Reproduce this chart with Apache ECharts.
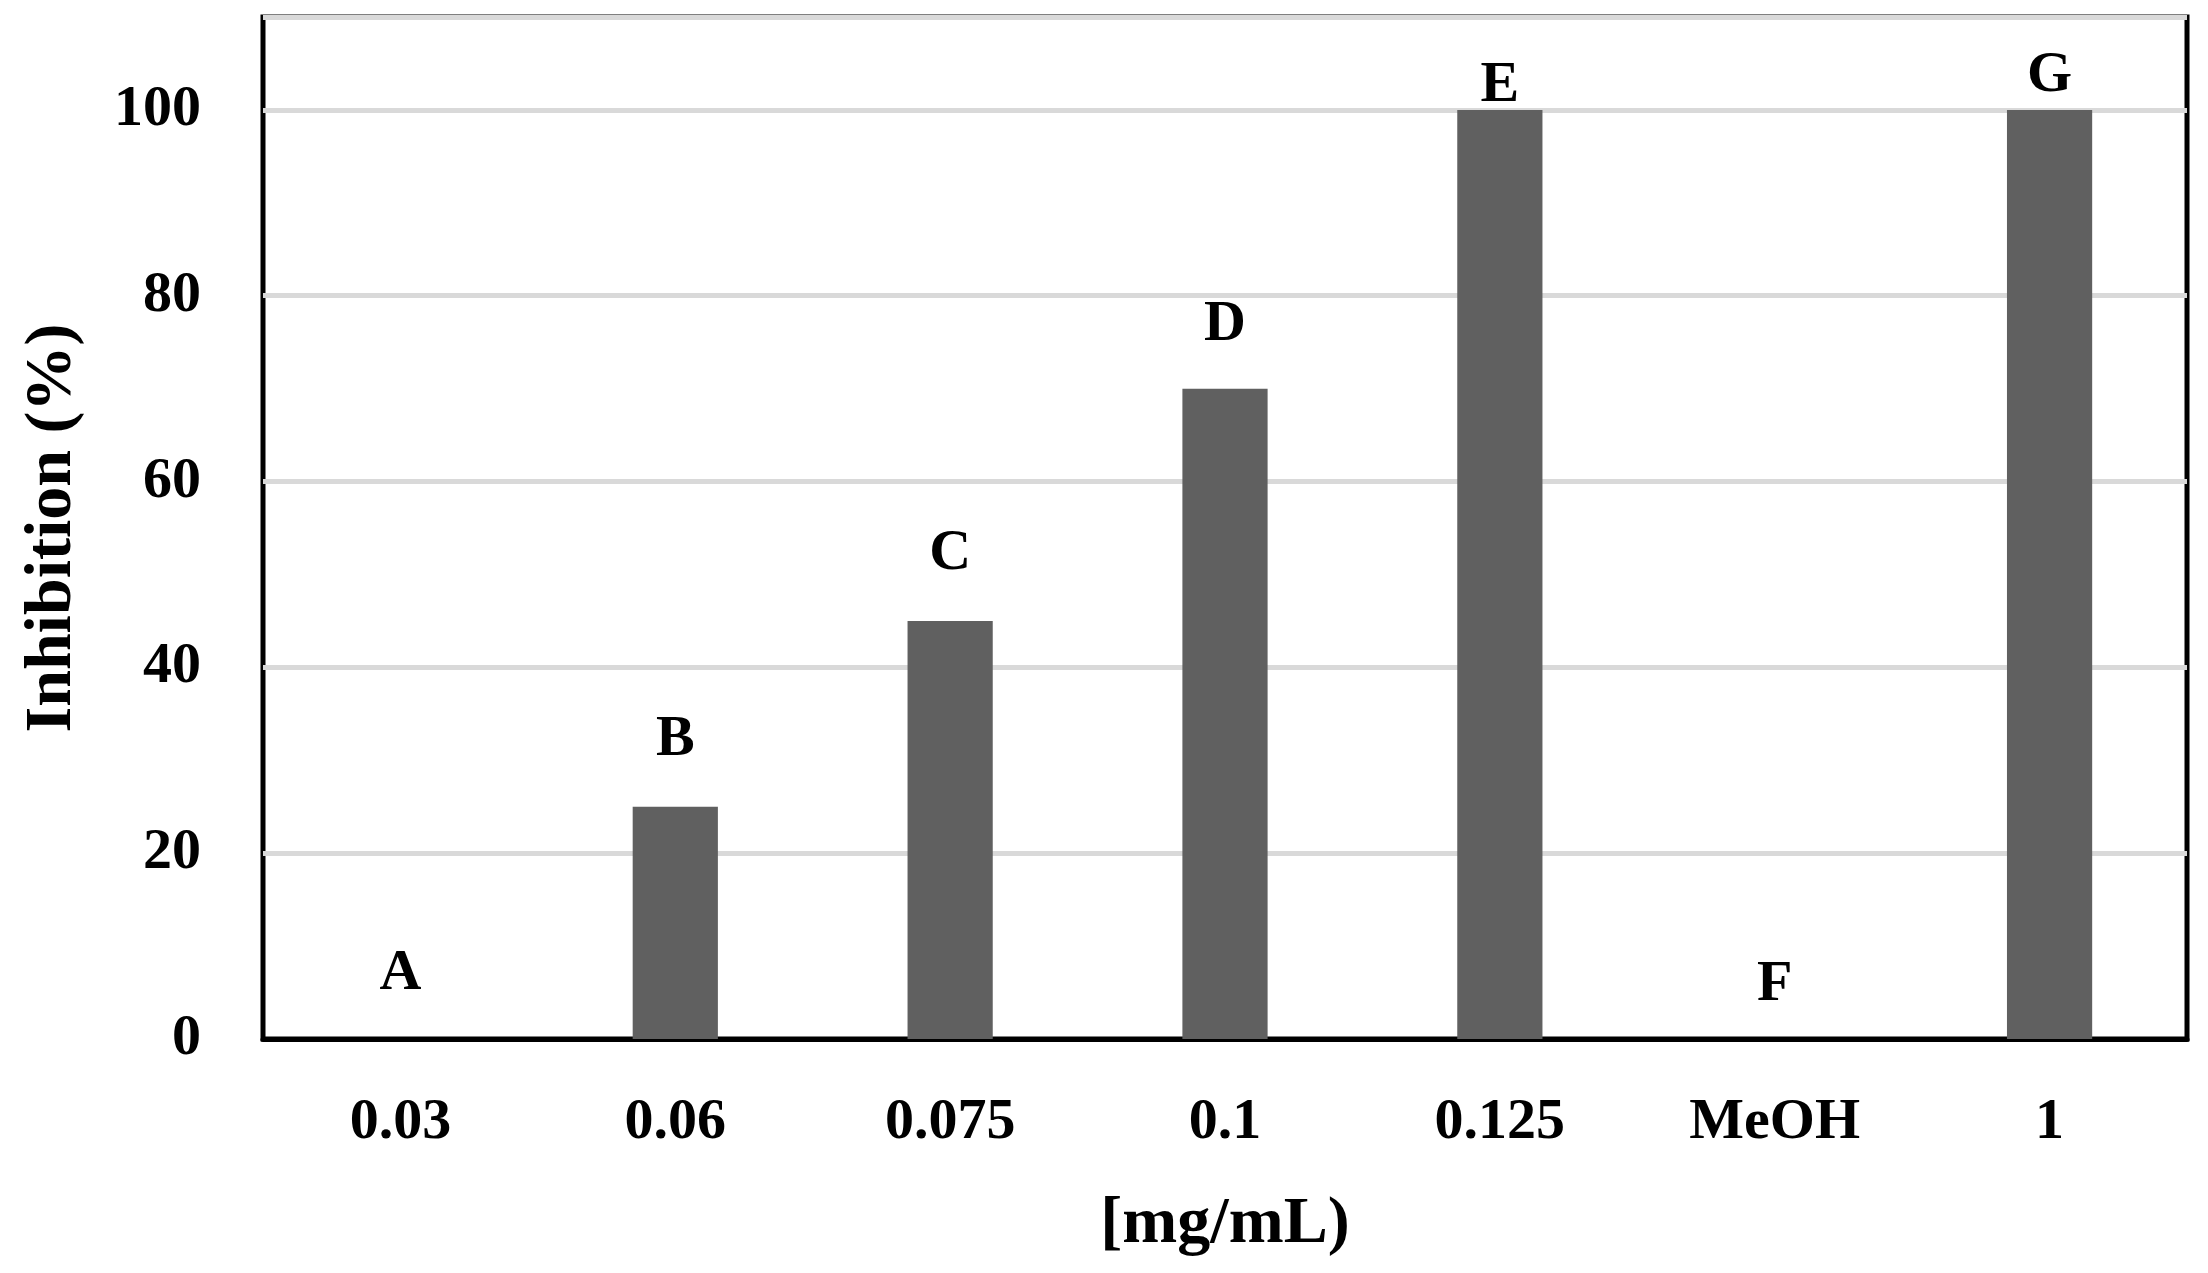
<!DOCTYPE html>
<html>
<head>
<meta charset="utf-8">
<script src="https://cdn.jsdelivr.net/npm/echarts@6/dist/echarts.min.js"></script>
<style>html,body{margin:0;padding:0;background:#fff}#c{width:2208px;height:1273px}</style>
</head>
<body>
<div id="c"></div>
<script>
const categories = ['0.03', '0.06', '0.075', '0.1', '0.125', 'MeOH', '1'];
const inhibition = [0, 25, 45, 70, 100, 0, 100];
const letters = ['A', 'B', 'C', 'D', 'E', 'F', 'G'];
const yTicks = [0, 20, 40, 60, 80, 100];

const FONT = '"Liberation Serif", "Times New Roman", serif';
const labelDist = [36, 38, 38, 35, -5, 25, 5];

const chart = echarts.init(document.getElementById('c'));
chart.setOption({
  animation: false,
  backgroundColor: '#fff',
  grid: { left: 263, right: 21, top: 17, bottom: 234, show: true, borderColor: '#000', borderWidth: 5, backgroundColor: 'transparent' },
  xAxis: {
    type: 'category',
    data: categories,
    axisLine: { show: true, lineStyle: { color: '#000', width: 5 } },
    axisTick: { show: false },
    axisLabel: { color: '#000', fontFamily: FONT, fontWeight: 'bold', fontSize: 58, margin: 55 },
    name: '[mg/mL)',
    nameLocation: 'middle',
    nameGap: 153,
    nameTextStyle: { color: '#000', fontFamily: FONT, fontWeight: 'bold', fontSize: 66 }
  },
  yAxis: {
    type: 'value',
    min: 0,
    max: 110,
    interval: 20,
    axisLine: { show: false },
    axisTick: { show: false },
    splitLine: { lineStyle: { color: '#d9d9d9', width: 5 } },
    axisLabel: {
      color: '#000', fontFamily: FONT, fontWeight: 'bold', fontSize: 58, margin: 62,
      formatter: v => yTicks.indexOf(v) >= 0 ? String(v) : ''
    },
    name: 'Inhibition (%)',
    nameLocation: 'middle',
    nameGap: 177,
    nameTextStyle: { color: '#000', fontFamily: FONT, fontWeight: 'bold', fontSize: 66 }
  },
  series: [{
    type: 'bar',
    data: inhibition.map((v, i) => ({
      value: v,
      label: { distance: labelDist[i] }
    })),
    barWidth: '31%',
    itemStyle: { color: '#606060' },
    label: {
      show: true,
      position: 'top',
      color: '#000',
      fontFamily: FONT,
      fontWeight: 'bold',
      fontSize: 58,
      formatter: p => letters[p.dataIndex]
    }
  }]
});
</script>
</body>
</html>
